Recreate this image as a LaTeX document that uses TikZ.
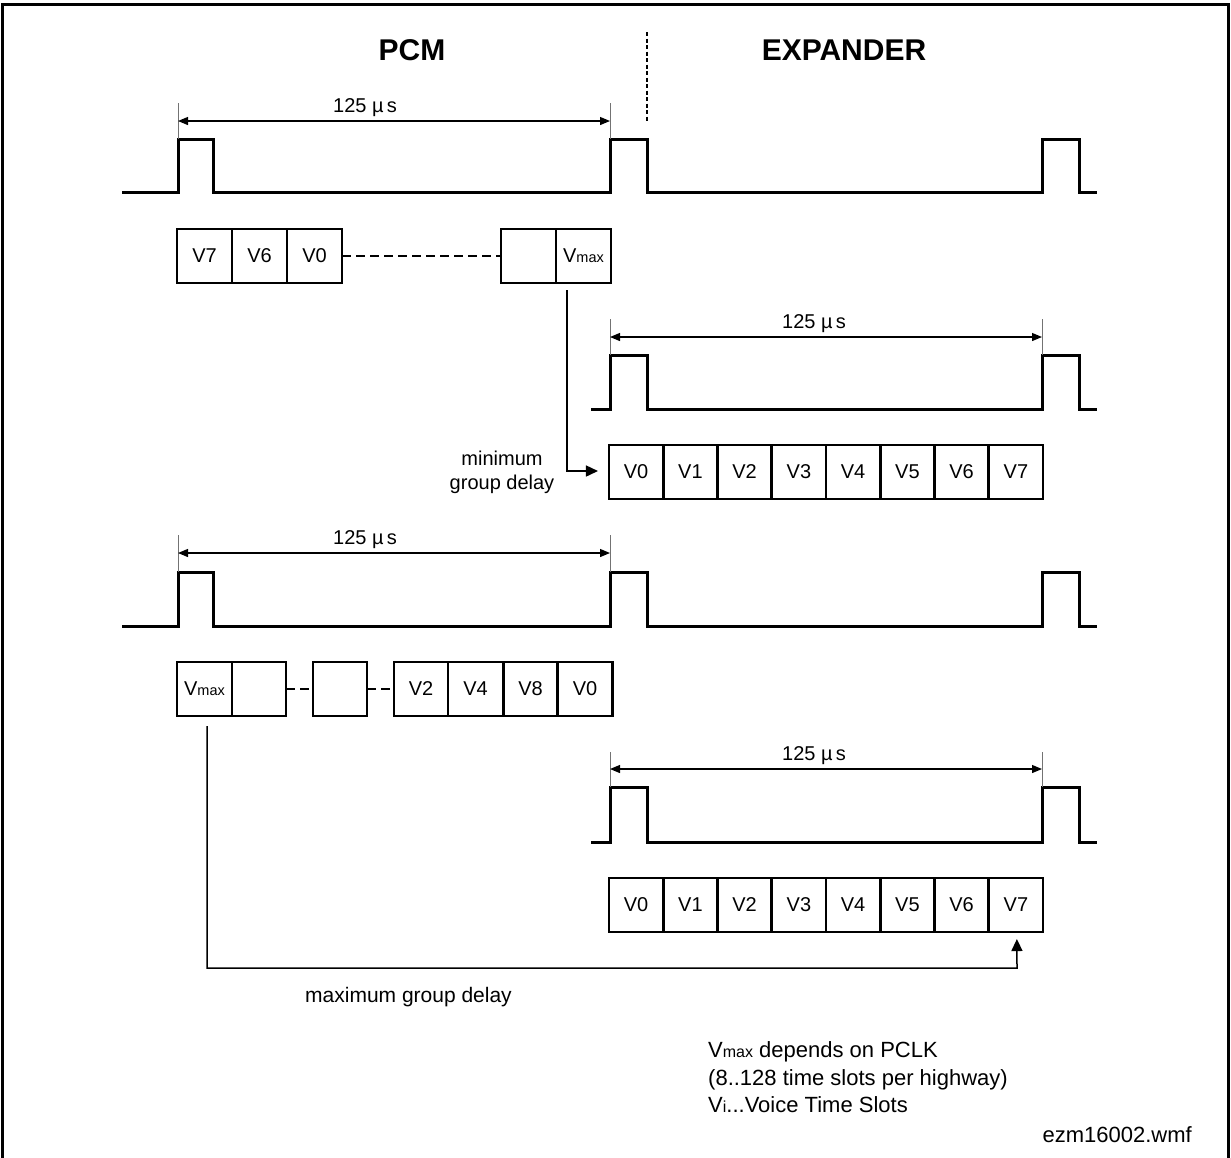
\documentclass[tikz,border=0pt]{standalone}
\usepackage{fontspec}
\setmainfont{Liberation Sans}
\usetikzlibrary{arrows.meta}
\newcommand{\titlefont}{\fontsize{30}{34}\selectfont\bfseries}
\newcommand{\lblfont}{\fontsize{20}{24}\selectfont}
\newcommand{\boxfont}{\fontsize{20}{23}\selectfont}
\newcommand{\notefont}{\fontsize{22}{26}\selectfont}
\newcommand{\smallpart}[1]{{\fontsize{14.5}{14.5}\selectfont #1}}
\newcommand{\smallnote}[1]{{\fontsize{16}{16}\selectfont #1}}
\begin{document}
\begin{tikzpicture}[x=1pt,y=-1pt,
  wave/.style={line width=3pt,line join=miter},
  slot/.style={draw,line width=2.5pt,minimum width=55pt,minimum height=54pt,inner sep=0pt,outer sep=0pt,font=\boxfont},
  slotb/.style={slot,minimum width=54.25pt},
  dimline/.style={line width=1.2pt,{Triangle[length=10pt,width=8pt]}-{Triangle[length=10pt,width=8pt]}},
  ticky/.style={line width=1pt,black!55},
  conn/.style={line width=1.5pt,-{Triangle[length=12pt,width=11pt]}},
  gapdash/.style={line width=2.5pt,dash pattern=on 9pt off 5pt},
  lbl/.style={font=\lblfont,inner sep=0pt}]

\useasboundingbox (0,0) rectangle (1231,1157);
\fill[white] (0,0) rectangle (1231,1157);
\draw[line width=3pt] (2,1180) -- (2,4.5) -- (1228.5,4.5) -- (1228.5,1180);

% titles
\node[font=\titlefont,inner sep=0pt] (pcm) at (412,50) {PCM};
\node[font=\titlefont,inner sep=0pt] (expd) at (844,50) {EXPANDER};
\draw[line width=1.5pt,dash pattern=on 4pt off 2.5pt] (647,32) -- (647,122);

% ---------- row 1 waveform
\draw[wave] (122,192) -- (178,192) -- (178,139) -- (213,139) -- (213,192) -- (610,192) -- (610,139) -- (647,139) -- (647,192) -- (1042,192) -- (1042,139) -- (1079,139) -- (1079,192) -- (1097,192);
\draw[ticky] (178,103) -- (178,139);
\draw[ticky] (610,103) -- (610,139);
\draw[dimline] (178,121) -- (610,121);
\node[lbl,anchor=base west] (d1) at (333,112) {125 µ\,s};

% row 1 slots
\node[slot] (r1a) at (204.5,256) {V7};
\node[slot] (r1b) at (259.5,256) {V6};
\node[slot] (r1c) at (314.5,256) {V0};
\node[slot] (r1d) at (528.5,256) {};
\node[slot] (r1e) at (583.5,256) {V\smallpart{max}};
\draw[gapdash] (r1c.east) -- (r1d.west);

% ---------- row 2 waveform
\draw[wave] (591,409) -- (610,409) -- (610,355) -- (647,355) -- (647,409) -- (1042,409) -- (1042,355) -- (1079,355) -- (1079,409) -- (1097,409);
\draw[ticky] (610,319) -- (610,355);
\draw[ticky] (1042,319) -- (1042,355);
\draw[dimline] (610,337) -- (1042,337);
\node[lbl,anchor=base west] (d2) at (782,328) {125 µ\,s};

% row 2 slots
\node[slotb] (r2a) at (636.1,472) {V0};
\node[slotb] (r2b) at (690.4,472) {V1};
\node[slotb] (r2c) at (744.6,472) {V2};
\node[slotb] (r2d) at (798.9,472) {V3};
\node[slotb] (r2e) at (853.1,472) {V4};
\node[slotb] (r2f) at (907.4,472) {V5};
\node[slotb] (r2g) at (961.6,472) {V6};
\node[slotb] (r2h) at (1015.9,472) {V7};

\draw[conn] ([xshift=-16.5pt,yshift=-7pt]r1e.south) |- ([xshift=-11pt,yshift=1pt]r2a.west);
\node[lbl,align=center,font=\lblfont] (mind) at (502,472) {minimum\\group delay};

% ---------- row 3 waveform
\draw[wave] (122,626) -- (178,626) -- (178,572) -- (213,572) -- (213,626) -- (610,626) -- (610,572) -- (647,572) -- (647,626) -- (1042,626) -- (1042,572) -- (1079,572) -- (1079,626) -- (1097,626);
\draw[ticky] (178,535) -- (178,572);
\draw[ticky] (610,535) -- (610,572);
\draw[dimline] (178,553) -- (610,553);
\node[lbl,anchor=base west] (d3) at (333,544) {125 µ\,s};

% row 3 slots
\node[slot] (r3a) at (204.5,689) {V\smallpart{max}};
\node[slot,minimum width=54pt] (r3b) at (259,689) {};
\node[slot,minimum width=54pt] (r3c) at (340,689) {};
\node[slot,minimum width=54pt] (r3d) at (421,689) {V2};
\node[slot] (r3e) at (475.5,689) {V4};
\node[slot,minimum width=54pt] (r3f) at (530.5,689) {V8};
\node[slot] (r3g) at (585,689) {V0};
\draw[gapdash] (r3b.east) -- (r3c.west);
\draw[gapdash] (r3c.east) -- (r3d.west);

% ---------- row 4 waveform
\draw[wave] (591,842) -- (610,842) -- (610,787) -- (647,787) -- (647,842) -- (1042,842) -- (1042,787) -- (1079,787) -- (1079,842) -- (1097,842);
\draw[ticky] (610,752) -- (610,787);
\draw[ticky] (1042,752) -- (1042,787);
\draw[dimline] (610,769) -- (1042,769);
\node[lbl,anchor=base west] (d4) at (782,760) {125 µ\,s};

% row 4 slots
\node[slotb] (r4a) at (636.1,905) {V0};
\node[slotb] (r4b) at (690.4,905) {V1};
\node[slotb] (r4c) at (744.6,905) {V2};
\node[slotb] (r4d) at (798.9,905) {V3};
\node[slotb] (r4e) at (853.1,905) {V4};
\node[slotb] (r4f) at (907.4,905) {V5};
\node[slotb] (r4g) at (961.6,905) {V6};
\node[slotb] (r4h) at (1015.9,905) {V7};

\coordinate (maxc) at (1017,968);
\draw[conn] ([xshift=2.5pt,yshift=-10pt]r3a.south) |- (maxc) -- ([xshift=1pt,yshift=-7pt]r4h.south);
\node[lbl,anchor=base west,font=\fontsize{21}{24}\selectfont] (maxd) at (305,1002) {maximum group delay};

% notes
\node[font=\notefont,anchor=base west,inner sep=0pt] (n1) at (708,1057) {V\smallnote{max} depends on PCLK};
\node[font=\notefont,anchor=base west,inner sep=0pt] (n2) at (708,1085) {(8..128 time slots per highway)};
\node[font=\notefont,anchor=base west,inner sep=0pt] (n3) at (708,1112) {V\smallnote{i}...Voice Time Slots};
\node[font=\notefont,anchor=base east,inner sep=0pt] (n4) at (1192,1142) {ezm16002.wmf};
\end{tikzpicture}
\end{document}
